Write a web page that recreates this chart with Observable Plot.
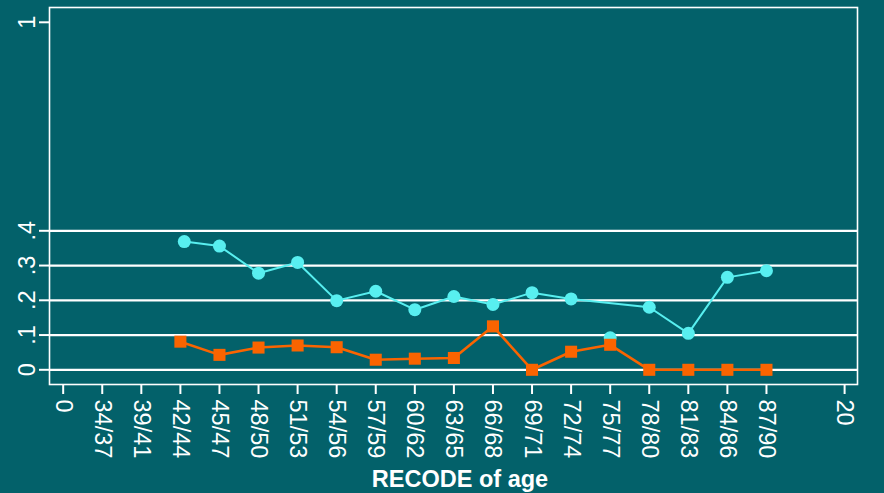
<!DOCTYPE html>
<html>
<head>
<meta charset="utf-8">
<script src="https://cdn.jsdelivr.net/npm/d3@7"></script>
<script src="https://cdn.jsdelivr.net/npm/@observablehq/plot@0.6"></script>
<style>
  html, body { margin: 0; padding: 0; background: #03616a; }
  #chart svg { display: block; }
</style>
</head>
<body>
<div id="chart"></div>
<script>
// Category positions on the x axis (numeric slots) and their tick labels
const xTickValues = [0, 1, 2, 3, 4, 5, 6, 7, 8, 9, 10, 11, 12, 13, 14, 15, 16, 17, 18, 20];
const xTickLabels = ["0", "34/37", "39/41", "42/44", "45/47", "48/50", "51/53", "54/56", "57/59",
  "60/62", "63/65", "66/68", "69/71", "72/74", "75/77", "78/80", "81/83", "84/86", "87/90", "20"];

const yTickValues = [0, 0.1, 0.2, 0.3, 0.4, 1];
const yTickLabels = ["0", ".1", ".2", ".3", ".4", "1"];
const gridValues = [0, 0.1, 0.2, 0.3, 0.4];

// Series (x slot 3..18 = 42/44 .. 87/90)
const cyanX = [3.1, 4, 5, 6, 7, 8, 9, 10, 11, 12, 13, 14, 15, 16, 17, 18];
const cyanValues = [0.369, 0.356, 0.278, 0.309, 0.199, 0.226, 0.173, 0.211, 0.188, 0.222, 0.204, 0.092, 0.180, 0.105, 0.266, 0.285];
const cyanLineSkips = [14]; // the 75/77 point is not joined by the line in the original
const orangeX = [3, 4, 5, 6, 7, 8, 9, 10, 11, 12, 13, 14, 15, 16, 17, 18];
const orangeValues = [0.081, 0.043, 0.064, 0.070, 0.065, 0.029, 0.032, 0.034, 0.125, 0.000, 0.052, 0.072, 0.000, 0.000, 0.000, 0.000];

const cyan = cyanX.map((x, i) => ({x, y: cyanValues[i]}));
const cyanLine = cyan.filter(d => !cyanLineSkips.includes(d.x));
const orange = orangeX.map((x, i) => ({x, y: orangeValues[i]}));

const BG = "#03616a";
const CYAN = "#58eff0";
const ORANGE = "#fa6400";
const FONT = "'Liberation Sans', Arial, Helvetica, sans-serif";

const chart = Plot.plot({
  width: 884,
  height: 493,
  marginLeft: 49,
  marginRight: 27,
  marginTop: 7,
  marginBottom: 109,
  style: {background: BG, color: "white", fontFamily: FONT, fontSize: "23.5px"},
  x: {domain: [-0.35, 20.33], axis: null},
  y: {domain: [-0.0423, 1.0426], axis: null},
  marks: [
    Plot.ruleY(gridValues, {stroke: "white", strokeWidth: 2.3}),
    Plot.frame({stroke: "white", strokeWidth: 1.6}),
    Plot.axisX({
      ticks: xTickValues,
      tickFormat: d => xTickLabels[xTickValues.indexOf(d)],
      tickRotate: 90,
      tickSize: 10,
      tickPadding: 5,
      stroke: "white",
      strokeWidth: 2,
      fill: "white",
      fontSize: 23.5,
      label: null
    }),
    Plot.axisY({
      ticks: yTickValues,
      tickFormat: d => yTickLabels[yTickValues.indexOf(d)],
      tickRotate: -90,
      tickSize: 10,
      tickPadding: 5,
      stroke: "white",
      strokeWidth: 2,
      fill: "white",
      fontSize: 23.5,
      label: null
    }),
    Plot.text(["RECODE of age"], {
      frameAnchor: "bottom", dy: 95, dx: 6.5, fill: "white",
      fontWeight: "bold", fontSize: 23.5, lineAnchor: "middle", textAnchor: "middle"
    }),
    Plot.line(cyanLine, {x: "x", y: "y", stroke: CYAN, strokeWidth: 2}),
    Plot.dot(cyan, {x: "x", y: "y", r: 6.5, fill: CYAN, stroke: "none"}),
    Plot.line(orange, {x: "x", y: "y", stroke: ORANGE, strokeWidth: 2.6}),
    Plot.dot(orange, {x: "x", y: "y", r: 6.8, symbol: "square", fill: ORANGE, stroke: "none"})
  ]
});
document.getElementById("chart").append(chart);
</script>
</body>
</html>
